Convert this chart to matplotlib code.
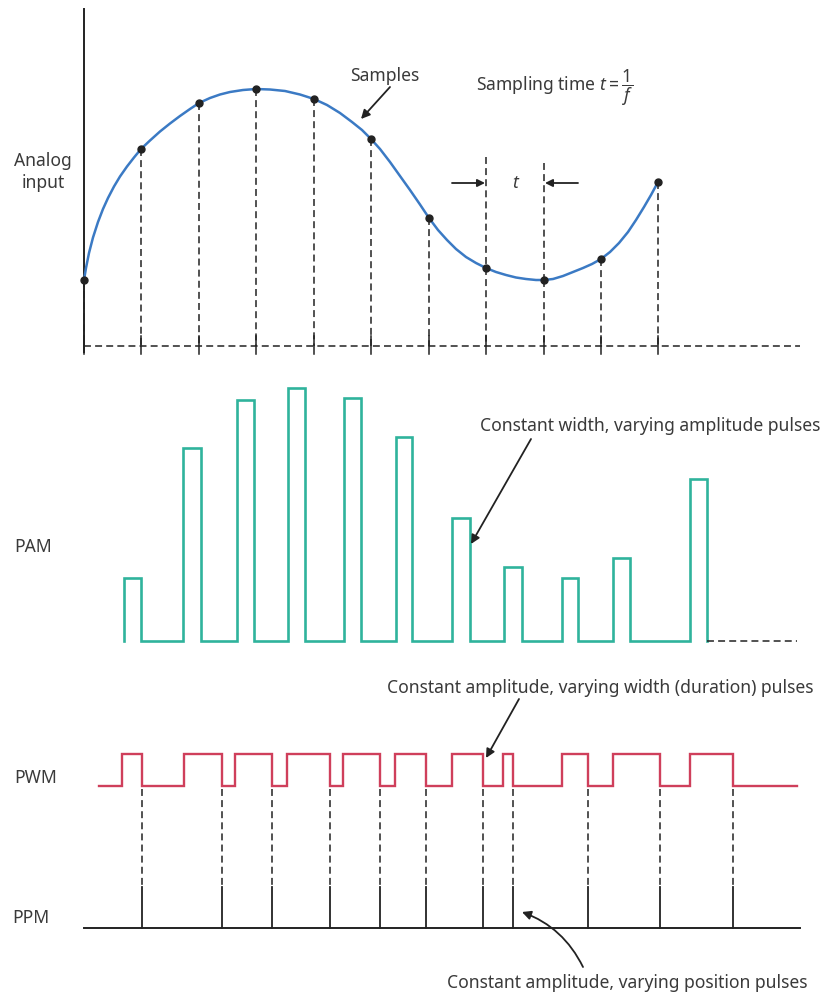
import matplotlib.pyplot as plt

# sample instants and analog values (pixel-like units, y grows downward)
sample_x = [84, 141, 199, 256, 314, 371, 429, 486, 544, 601, 658]
sample_y = [280, 149, 103, 89, 99, 139, 218, 268, 280, 259, 182]

# analog curve
curve_x = [84, 86, 89, 93, 98, 103, 108, 114, 120, 127, 134, 141, 150, 160,
           170, 180, 190, 199, 210, 220, 230, 243, 256, 270, 285, 300, 314,
           327, 340, 352, 362, 371, 380, 390, 400, 410, 420, 429, 438, 447,
           456, 466, 476, 486, 496, 506, 516, 526, 536, 544, 553, 563, 573,
           583, 592, 601, 610, 619, 628, 636, 644, 651, 658]
curve_y = [280, 268, 253, 237.5, 222, 209, 198, 186.5, 176.5, 166.5, 157.5,
           149, 140.5, 131.5, 123.5, 116, 109, 103, 98, 94.5, 92, 90, 89,
           89.5, 91, 94.5, 99, 105, 113, 122, 130, 139, 149, 162, 176, 190,
           204.5, 218, 230, 240, 249, 257, 263, 268, 272, 275, 277.5, 279,
           280, 280, 279, 276, 272, 268, 264, 259, 252, 243, 232, 220, 207,
           195, 182]

# PAM pulses
pam_left = [124, 183, 237, 288, 344, 396, 452, 504, 562, 613, 690]
pam_right = [141, 201, 254, 305, 361, 412, 470, 522, 578, 630, 707]
pam_top = [578, 448, 400, 388, 398, 437, 518, 567, 578, 558, 479]

# PWM pulses
pwm_rise = [122, 184, 235, 287, 343, 395, 452, 503, 562, 613, 690]
pwm_fall = [142, 222, 272, 330, 380, 426, 483, 513, 588, 660, 733]

INK = "#222222"
TEXT = "#3a3a3a"
BLUE = "#3b7ac4"
TEAL = "#2fb39c"
RED = "#cf3f5b"
FS = 12.6

plt.rcParams["font.family"] = ["Noto Sans", "DejaVu Sans"]
plt.rcParams["mathtext.fontset"] = "custom"
plt.rcParams["mathtext.it"] = "Noto Sans:italic"
plt.rcParams["mathtext.rm"] = "Noto Sans"
plt.rcParams["lines.scale_dashes"] = False

fig = plt.figure(figsize=(8.28, 9.93), dpi=100)
ax = fig.add_axes([0, 0, 1, 1])
ax.set_xlim(0, 828)
ax.set_ylim(993, 0)
ax.axis("off")

dash = (5, 3)
arrow = dict(arrowstyle="-|>", color=INK, lw=1.3, mutation_scale=13,
             shrinkA=0, shrinkB=0)

# ---- analog input panel ----
ax.plot([84, 84], [9, 352], color=INK, lw=1.4)
ax.plot([84, 800], [346, 346], color=INK, lw=1.1, dashes=dash)
for x, y in zip(sample_x, sample_y):
    ax.plot([x, x], [y, 346], color=INK, lw=1.1, dashes=dash)
    ax.plot([x, x], [336, 354], color=INK, lw=1.1)
ax.plot([486, 486], [157, 268], color=INK, lw=1.1, dashes=dash)
ax.plot([544, 544], [163, 280], color=INK, lw=1.1, dashes=dash)
ax.plot(curve_x, curve_y, color=BLUE, lw=1.8, solid_capstyle="round",
        solid_joinstyle="round")
ax.plot(sample_x, sample_y, "o", color=INK, ms=5, zorder=5)

ax.text(43, 172, "Analog\ninput", ha="center", va="center", fontsize=FS,
        color=TEXT, linespacing=1.25)
ax.text(385, 76, "Samples", ha="center", va="center", fontsize=FS, color=TEXT)
ax.annotate("", xy=(361, 119), xytext=(390, 87), arrowprops=arrow)
ax.text(476, 88, r"Sampling time $t = \dfrac{1}{f}$", ha="left", va="center",
        fontsize=FS, color=TEXT)
ax.text(515, 183, "t", ha="center", va="center", fontsize=FS, color=TEXT,
        style="italic")
ax.annotate("", xy=(485, 183), xytext=(452, 183),
            arrowprops=dict(arrow, mutation_scale=11))
ax.annotate("", xy=(545, 183), xytext=(578, 183),
            arrowprops=dict(arrow, mutation_scale=11))

# ---- PAM ----
pam_base = 641
px, py = [], []
for left, right, top in zip(pam_left, pam_right, pam_top):
    px += [left, left, right, right]
    py += [pam_base, top, top, pam_base]
ax.plot(px, py, color=TEAL, lw=1.9, solid_joinstyle="miter")
ax.plot([pam_right[-1], 797], [pam_base, pam_base], color=INK, lw=1.1,
        dashes=dash)
ax.text(14, 547, "PAM", ha="left", va="center", fontsize=FS, color=TEXT)
ax.text(650, 426, "Constant width, varying amplitude pulses", ha="center",
        va="center", fontsize=FS, color=TEXT)
ax.annotate("", xy=(471, 544), xytext=(531, 439), arrowprops=arrow)

# ---- PWM ----
low, high = 786, 754
wx, wy = [99], [low]
for rise, fall in zip(pwm_rise, pwm_fall):
    wx += [rise, rise, fall, fall]
    wy += [low, high, high, low]
wx.append(797)
wy.append(low)
ax.plot(wx, wy, color=RED, lw=1.7, solid_joinstyle="miter")
ax.text(14, 778, "PWM", ha="left", va="center", fontsize=FS, color=TEXT)
ax.text(600, 688, "Constant amplitude, varying width (duration) pulses",
        ha="center", va="center", fontsize=FS, color=TEXT)
ax.annotate("", xy=(486, 758), xytext=(519, 699), arrowprops=arrow)

# ---- PPM ----
ppm_base = 928
for x in pwm_fall:
    ax.plot([x, x], [low + 3, 887], color=INK, lw=1.1, dashes=dash)
    ax.plot([x, x], [887, ppm_base], color=INK, lw=1.3)
ax.plot([84, 800], [ppm_base, ppm_base], color=INK, lw=1.4)
ax.text(12, 918, "PPM", ha="left", va="center", fontsize=FS, color=TEXT)
ax.text(627, 983, "Constant amplitude, varying position pulses", ha="center",
        va="center", fontsize=FS, color=TEXT)
ax.annotate("", xy=(522, 912), xytext=(583, 967),
            arrowprops=dict(arrow, connectionstyle="arc3,rad=0.2"))

fig.savefig("out.png", dpi=100)
